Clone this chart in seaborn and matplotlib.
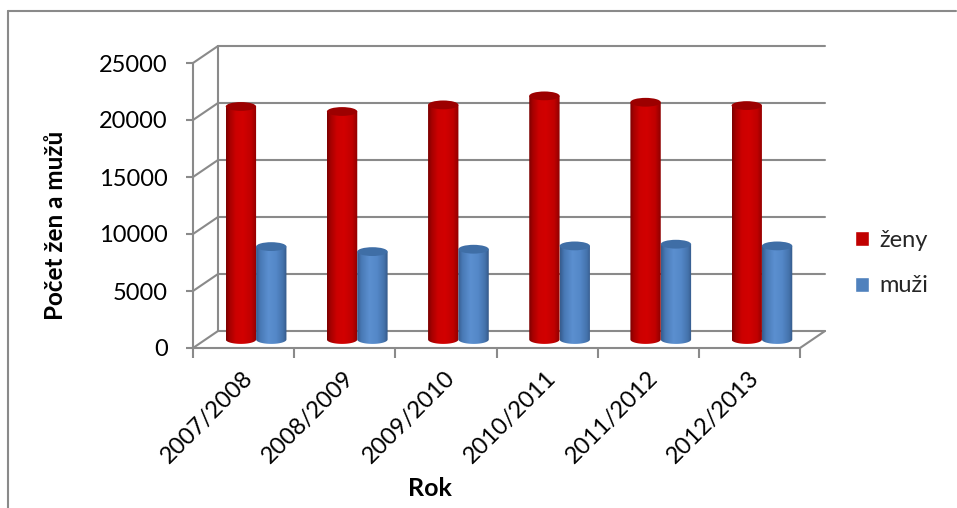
import numpy as np
import pandas as pd
import matplotlib
matplotlib.use("Agg")
import matplotlib.pyplot as plt
import seaborn as sns
from matplotlib.patches import PathPatch, Ellipse
from matplotlib.path import Path
from matplotlib.transforms import IdentityTransform, ScaledTranslation
from matplotlib.lines import Line2D
from matplotlib.colors import LinearSegmentedColormap

# ---------------- data ----------------
years = ["2007/2008", "2008/2009", "2009/2010", "2010/2011", "2011/2012", "2012/2013"]
zeny = [20440, 20000, 20580, 21370, 20810, 20520]
muzi = [8150, 7710, 7920, 8210, 8360, 8210]
series = ["ženy", "muži"]
yticks = [0, 5000, 10000, 15000, 20000, 25000]

colors = ["#C00000", "#4F81BD"]
df = pd.DataFrame({
    "Rok": years * 2,
    "Počet": zeny + muzi,
    "pohlaví": [series[0]] * len(years) + [series[1]] * len(years),
})

sns.set_theme(style="white")
plt.rcParams["font.family"] = ["Lato", "DejaVu Sans"]

W, H, DPI = 957, 508, 100
fig = plt.figure(figsize=(W / DPI, H / DPI), dpi=DPI)
fig.patch.set_facecolor("white")
ax = fig.add_axes([193 / W, (H - 348) / H, (800 - 193) / W, (348 - 63) / H])

sns.barplot(data=df, x="Rok", y="Počet", hue="pohlaví", hue_order=series,
            palette=colors, width=0.6, saturation=1, errorbar=None, ax=ax)
ax.set_xlim(-0.5, len(years) - 0.5)
ax.set_ylim(yticks[0], yticks[-1])
ax.autoscale(False)

GRID = "#8a8a8a"
DX, DY = 25, 17  # depth offset in pixels
FS = 17

# spines / ticks
for s in ["top", "right"]:
    ax.spines[s].set_visible(False)
for s in ["left", "bottom"]:
    ax.spines[s].set_color(GRID)
    ax.spines[s].set_linewidth(1.5)
ax.set_yticks(yticks)
ax.set_yticklabels([str(v) for v in yticks])
ax.tick_params(axis="y", length=5, width=1.5, color=GRID, pad=13, labelsize=FS,
               labelcolor="black", left=True, direction="out")
ax.set_xticks(np.arange(-0.5, len(years), 1), minor=True)
ax.tick_params(axis="x", which="minor", length=7, width=1.5, color=GRID, bottom=True, direction="out")
ax.tick_params(axis="x", which="major", length=0, pad=19, labelsize=FS, labelcolor="black")
offset = ScaledTranslation(6 / DPI, 0, fig.dpi_scale_trans)
for lab in ax.get_xticklabels():
    lab.set_rotation(45)
    lab.set_ha("right")
    lab.set_va("center")
    lab.set_rotation_mode("anchor")
    lab.set_transform(lab.get_transform() + offset)
ax.grid(False)

T = ax.transData
def disp(x, y):
    return T.transform((x, y))

# back wall + floor lines
x0 = -0.5
x1 = len(years) - 0.5
lines = []
for v in yticks:
    a = disp(x0, v)
    b = disp(x1, v)
    lines.append(([a[0] + DX, b[0] + DX], [a[1] + DY, b[1] + DY]))
    lines.append(([a[0], a[0] + DX], [a[1], a[1] + DY]))
lo = disp(x0, yticks[0]); hi = disp(x0, yticks[-1]); br = disp(x1, yticks[0])
lines.append(([lo[0] + DX, hi[0] + DX], [lo[1] + DY, hi[1] + DY]))
lines.append(([br[0], br[0] + DX], [br[1], br[1] + DY]))
for xs, ys in lines:
    ln = Line2D(xs, ys, color=GRID, lw=1.5, transform=IdentityTransform(), zorder=0.5)
    ln.set_clip_on(False)
    ax.add_line(ln)

# cylinder shading
cmaps = {
    colors[0]: LinearSegmentedColormap.from_list("r", [(0, "#7a0000"), (0.12, "#a60000"), (0.32, "#cc0000"),
                                                       (0.55, "#d20000"), (0.82, "#bf0000"), (1, "#8c0000")]),
    colors[1]: LinearSegmentedColormap.from_list("b", [(0, "#355b8c"), (0.14, "#4879b5"), (0.4, "#5b8fd0"),
                                                       (0.65, "#5488c8"), (0.88, "#4472ab"), (1, "#335786")]),
}
caps = {colors[0]: "#9c0000", colors[1]: "#3f6ea6"}

grad = np.linspace(0, 1, 256)[None, :]
bars = [p for p in ax.patches if p.get_height() > 0]
for i, p in enumerate(bars):
    fc = matplotlib.colors.to_hex(p.get_facecolor())
    key = colors[0] if fc.lower() == colors[0].lower() else colors[1]
    bx, bw, bh = p.get_x(), p.get_width(), p.get_height()
    p.set_visible(False)
    xl, yb = disp(bx, 0)
    xr, yt = disp(bx + bw, bh)
    xl += DX / 2; xr += DX / 2; yb += DY / 2; yt += DY / 2
    cx = (xl + xr) / 2; rx = (xr - xl) / 2; ry = 0.29 * rx
    th = np.linspace(np.pi, 2 * np.pi, 40)
    bottom = np.column_stack([cx + rx * np.cos(th), yb + ry * np.sin(th)])
    verts = [(xl, yt)] + [tuple(v) for v in bottom] + [(xr, yt), (xl, yt)]
    clip = PathPatch(Path(verts, closed=True), transform=IdentityTransform(),
                     facecolor="none", edgecolor="none")
    z = 2 + (0 if key == colors[0] else 1)
    im = ax.imshow(grad, cmap=cmaps[key], extent=(xl, xr, yb - ry - 1, yt + 1),
                   transform=IdentityTransform(), aspect="auto", zorder=z,
                   interpolation="bilinear")
    im.set_clip_path(clip)
    cap = Ellipse((cx, yt), 2 * rx, 2 * ry, transform=IdentityTransform(),
                  facecolor=caps[key], edgecolor="none", zorder=z + 0.1)
    cap.set_clip_on(False)
    ax.add_patch(cap)

ax.set_xlim(-0.5, len(years) - 0.5)
ax.set_ylim(yticks[0], yticks[-1])

# labels
ax.set_ylabel("Počet žen a mužů", fontsize=17.5, fontweight="bold", color="black")
ax.yaxis.set_label_coords((56 - 193) / 607, (348 - 225) / 285)
ax.yaxis.label.set_va("center")
ax.set_xlabel("Rok", fontsize=18, fontweight="bold", color="black")
ax.xaxis.set_label_coords((430 - 193) / 607, (348 - 488) / 285)
ax.xaxis.label.set_va("center")

# legend
sns.move_legend(ax, loc="center left", bbox_to_anchor=(855 / W, (H - 263) / H),
                bbox_transform=fig.transFigure, frameon=False, title=None,
                fontsize=FS, handlelength=0.6, handleheight=0.6, handletextpad=0.45,
                labelspacing=1.05, borderpad=0, borderaxespad=0)

# chart border
fig.add_artist(Line2D([8 / W, 956 / W], [(H - 11) / H, (H - 11) / H], color=GRID, lw=1.5,
                      transform=fig.transFigure))
fig.add_artist(Line2D([8 / W, 8 / W], [(H - 11) / H, 0], color=GRID, lw=1.5,
                      transform=fig.transFigure))

fig.savefig("out.png", dpi=DPI)
